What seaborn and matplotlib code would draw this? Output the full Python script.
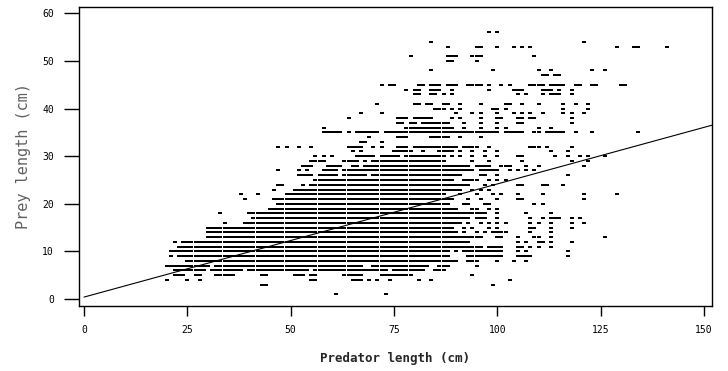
import matplotlib
matplotlib.use("Agg")
import matplotlib.pyplot as plt
import seaborn as sns
import pandas as pd

# ---- data ----
# dense horizontal runs: (prey length, first predator length, last predator length), 1 cm steps
dense_runs = [
    (5, 22, 24), (5, 27, 28), (5, 32, 36), (5, 43, 44), (5, 51, 53), (5, 55, 56), (5, 63, 67), (5, 72, 76), (5, 77, 79),
    (6, 22, 26), (6, 27, 29), (6, 31, 38), (6, 40, 54), (6, 56, 73), (6, 75, 82), (6, 85, 87),
    (7, 20, 30), (7, 32, 54), (7, 55, 67), (7, 70, 83), (7, 86, 88),
    (8, 25, 90), (8, 93, 95),
    (9, 21, 21), (9, 23, 88), (9, 93, 101), (9, 106, 108),
    (10, 21, 88), (10, 92, 101),
    (11, 23, 96), (11, 98, 101),
    (12, 22, 22), (12, 24, 93),
    (13, 30, 96), (13, 100, 101),
    (14, 30, 90), (14, 99, 102),
    (15, 30, 89),
    (16, 39, 91),
    (17, 41, 93), (17, 95, 97), (17, 113, 115),
    (18, 40, 97),
    (19, 45, 90),
    (20, 47, 88),
    (21, 46, 89),
    (22, 49, 87),
    (23, 51, 90),
    (24, 55, 93),
    (25, 56, 88), (25, 93, 95),
    (26, 52, 55), (26, 57, 61), (26, 63, 68), (26, 70, 91),
    (27, 58, 61), (27, 63, 94), (27, 96, 99),
    (28, 53, 55), (28, 59, 62), (28, 65, 66), (28, 68, 93), (28, 95, 98),
    (29, 55, 58), (29, 63, 65), (29, 70, 75), (29, 76, 87),
    (30, 66, 70), (30, 72, 76), (30, 78, 87),
    (31, 75, 79), (31, 86, 89),
    (32, 64, 67), (32, 76, 78), (32, 80, 90), (32, 92, 95),
    (34, 76, 78), (34, 84, 88),
    (35, 58, 62), (35, 66, 71), (35, 73, 100), (35, 102, 106), (35, 112, 116),
    (36, 78, 89),
    (37, 82, 88),
    (38, 76, 78), (38, 80, 84),
    (40, 85, 87),
]

# isolated points: (prey length, [predator lengths])
sparse_points = [
    (1, [61, 73]),
    (3, [43, 44, 99]),
    (4, [20, 25, 28, 55, 56, 65, 66, 67, 69, 71, 74, 81, 84, 103]),
    (5, [94]),
    (7, [95]),
    (8, [100, 104, 107]),
    (9, [105, 117]),
    (10, [90, 105, 107, 117]),
    (11, [105, 106, 108, 110, 113]),
    (12, [105, 107, 110, 111, 113, 118]),
    (13, [105, 109, 110, 113, 126]),
    (14, [92, 95, 97, 108, 113]),
    (15, [92, 94, 98, 100, 108, 109, 113, 118]),
    (16, [34, 93, 96, 98, 100, 102, 108, 110, 113, 118, 121]),
    (17, [100, 108, 111, 118, 120]),
    (18, [33, 100, 107, 113]),
    (19, [94, 95, 98, 100]),
    (20, [92, 93, 97, 98, 109, 111]),
    (21, [39, 93, 96, 100, 105, 106, 121]),
    (22, [38, 42, 91, 95, 99, 101, 105, 111, 121, 129]),
    (23, [46, 91, 94, 96, 98]),
    (24, [47, 48, 53, 97, 99, 105, 106, 111, 112, 116]),
    (25, [89, 92, 98, 100, 102]),
    (26, [96, 97, 100, 117]),
    (27, [47, 52, 54, 100, 103, 105, 107, 109]),
    (28, [101, 102, 103, 107, 110, 121]),
    (29, [66, 68, 94, 98, 106, 118, 122]),
    (30, [56, 58, 60, 89, 91, 94, 97, 100, 105, 106, 114, 117, 120, 122, 126]),
    (31, [65, 67, 82, 91, 94, 97, 100, 113, 117]),
    (32, [47, 49, 52, 55, 70, 72, 98, 108, 109, 110, 112, 118]),
    (33, [67, 68, 72]),
    (34, [69, 91, 96]),
    (35, [64, 109, 110, 119, 123, 134]),
    (36, [58, 92, 96, 100, 102, 110, 113]),
    (37, [76, 77, 79, 80, 92, 96, 100, 105, 106, 118]),
    (38, [64, 89, 91, 96, 100, 101, 105, 106, 108, 109, 118]),
    (39, [67, 72, 90, 94, 96, 100, 104, 106, 108, 111, 116, 118, 121]),
    (40, [89, 91, 99, 100, 102, 116, 122]),
    (41, [71, 80, 81, 83, 84, 87, 88, 91, 96, 102, 103, 106, 110, 116, 119, 122]),
    (43, [80, 81, 84, 85, 87, 89, 105, 107, 111, 113, 114, 115, 118]),
    (44, [78, 80, 81, 84, 85, 86, 89, 98, 104, 105, 106, 111, 112, 113, 115, 118]),
    (45, [72, 74, 75, 81, 82, 84, 85, 86, 88, 89, 90, 93, 94, 95, 96, 98, 101, 103,
          108, 109, 110, 111, 113, 114, 115, 116, 119, 120, 123, 124, 130, 131]),
    (47, [111, 112, 114, 115]),
    (48, [84, 99, 110, 113, 123, 126]),
    (50, [88, 89, 95]),
    (51, [79, 88, 89, 90, 94, 95, 96, 109]),
    (53, [88, 95, 96, 100, 104, 106, 108, 129, 133, 134, 141]),
    (54, [84, 121]),
    (56, [98, 100]),
]

# fitted regression line (end points)
line_pred = [0, 151.9]
line_prey = [0.4, 36.5]

x_ticks = [0, 25, 50, 75, 100, 125, 150]
y_ticks = [0, 10, 20, 30, 40, 50, 60]
x_title = "Predator length (cm)"
y_title = "Prey length (cm)"

# ---- build table ----
pred, prey = [], []
for py, a, b in dense_runs:
    for px in range(a, b + 1):
        pred.append(px)
        prey.append(py)
for py, xs in sparse_points:
    for px in xs:
        pred.append(px)
        prey.append(py)
df = pd.DataFrame({"Predator": pred, "Prey": prey})

# ---- draw ----
sns.set_style("ticks")
plt.rcParams["font.family"] = ["DejaVu Sans"]

fig = plt.figure(figsize=(7.28, 3.71), dpi=100)
ax = fig.add_axes([79 / 728, 65 / 371, 633 / 728, 299.3 / 371])

# small rectangular dot: a little wider than tall, leaving thin white gaps between rows
rect_marker = [(-1.0, -0.7), (1.0, -0.7), (1.0, 0.7), (-1.0, 0.7), (-1.0, -0.7)]
sns.scatterplot(data=df, x="Predator", y="Prey", marker=rect_marker, s=9,
                color="black", linewidth=0, ax=ax, legend=False)
sns.lineplot(x=line_pred, y=line_prey, color="black", linewidth=0.8, ax=ax)

ax.set_xlim(-1.21, 151.95)
ax.set_ylim(-1.47, 61.4)
ax.set_xticks(x_ticks)
ax.set_yticks(y_ticks)
ax.set_xticklabels([str(v) for v in x_ticks], fontsize=7, family="DejaVu Sans Mono")
ax.set_yticklabels([str(v) for v in y_ticks], fontsize=7, family="DejaVu Sans Mono")
ax.tick_params(axis="y", length=11, width=1, pad=7, colors="black")
ax.tick_params(axis="x", length=7, width=1, pad=7, colors="black")
for sp in ax.spines.values():
    sp.set_visible(True)
    sp.set_linewidth(1)
    sp.set_color("black")

ax.set_xlabel(x_title, fontsize=9, fontweight="bold", family="DejaVu Sans Mono", labelpad=12)
ax.set_ylabel(y_title, fontsize=11, color="#606060", family="DejaVu Sans Mono", labelpad=8)

fig.savefig("out.png", dpi=100)
